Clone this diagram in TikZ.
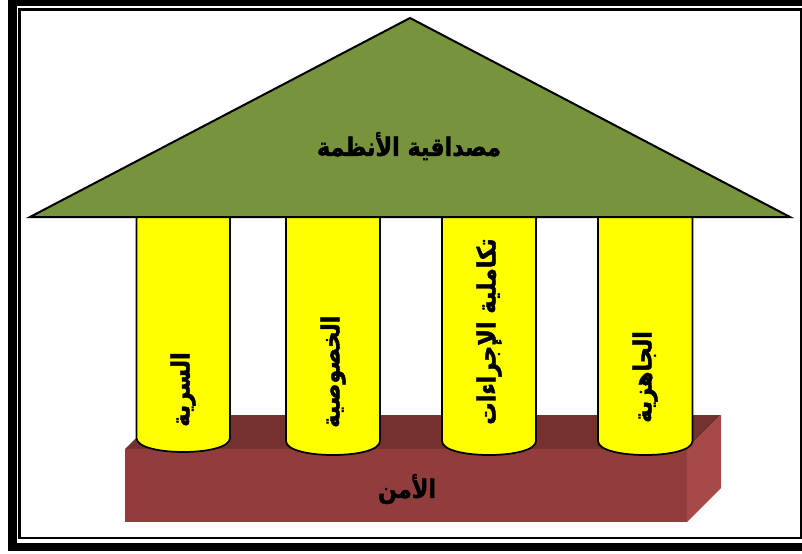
\documentclass[tikz,border=0pt]{standalone}
\usepackage{fontspec}
\TeXXeTstate=1
\newfontfamily\arabicfont[Script=Arabic, FakeStretch=0.88, FakeBold=1.6]{DejaVu Sans}
\definecolor{roofgreen}{HTML}{77933C}
\definecolor{pillarfill}{HTML}{FFFF00}
\definecolor{basefront}{HTML}{913D3D}
\definecolor{basetop}{HTML}{753030}
\definecolor{baseside}{HTML}{A84949}
\tikzset{
  roof/.style={fill=roofgreen, draw=black, line width=1.5pt, line join=miter},
  pillar/.style={fill=pillarfill, draw=black, line width=1.3pt},
  label/.style={font=\arabicfont\bfseries\fontsize{19}{22}\selectfont, inner sep=0pt},
  pillarlabel/.style={label, rotate=90, anchor=west},
}
% one column: left x, right x, centre of the bottom ellipse, its half height
\newcommand{\pillarshape}[4]{%
  \draw[pillar] (#1,217) -- (#1,#3)
    .. controls (#1,{#3+1.3333*#4}) and (#2,{#3+1.3333*#4}) .. (#2,#3)
    -- (#2,217);
}
\begin{document}
\begin{tikzpicture}[x=0.75pt, y=-0.75pt]
  \useasboundingbox (0,0) rectangle (802,553);
  \begin{scope}
    \clip (0,0) rectangle (802,553);
    % double frame
    \draw[line width=6.3pt] (12.5,1.8) rectangle (808,547);
    \draw[line width=2pt] (19.7,9.7) rectangle (801.2,538);
  \end{scope}

  % base block
  \fill[basetop] (125,449) -- (159,415) -- (721,415) -- (687,449) -- cycle;
  \fill[baseside] (687,449) -- (721,415) -- (721,488) -- (687,522) -- cycle;
  \fill[basefront] (125,449) rectangle (687,522);

  % columns
  \pillarshape{136.5}{230}{438}{14}
  \pillarshape{286}{380}{441}{14}
  \pillarshape{442}{536}{441}{14}
  \pillarshape{598}{692.5}{441}{14}

  % roof
  \draw[roof] (30,217) -- (410,18) -- (790,217) -- cycle;

  % texts
  \node[label] (roofText) at (409,146) {\beginR مصداقية الأنظمة\endR};
  \node[label] (baseText) at (407,489) {\beginR الأمن\endR};
  \node[pillarlabel] (p1) at (183,427) {\beginR السرية\endR};
  \node[pillarlabel] (p2) at (333,428) {\beginR الخصوصية\endR};
  \node[pillarlabel] (p3) at (489,425) {\beginR تكاملية الإجراءات\endR};
  \node[pillarlabel] (p4) at (645,423) {\beginR الجاهزية\endR};
\end{tikzpicture}
\end{document}
